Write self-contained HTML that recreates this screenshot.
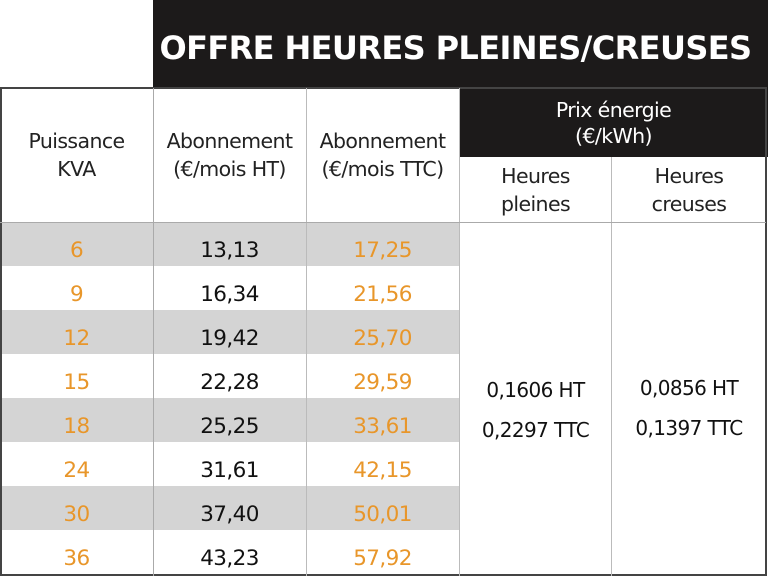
<!DOCTYPE html><html><head><meta charset="utf-8"><style>
body{margin:0;width:768px;height:576px;background:#fff;position:relative;overflow:hidden;font-family:"DejaVu Sans","Liberation Sans",sans-serif;}
div{position:absolute;box-sizing:border-box;}
.c{display:flex;align-items:center;justify-content:center;text-align:center;}
.t{font-size:20.5px;color:#222;line-height:28px;letter-spacing:-0.6px}
.v{font-size:21.5px;letter-spacing:-0.6px}
.o{color:#e8962a}.k{color:#111}
.g{background:#d4d4d4}
</style></head><body>
<div class="c" style="left:153px;top:0;width:615px;height:88px;background:#1c1a1a;color:#fff;font-size:32px;font-weight:bold;letter-spacing:-0.6px;padding-top:8px;padding-right:10px">OFFRE HEURES PLEINES/CREUSES</div>
<div class="c" style="left:459px;top:88px;width:309px;height:69px;background:#1c1a1a;color:#fff;font-size:20.5px;line-height:26px;letter-spacing:-0.6px">Prix énergie<br>(€/kWh)</div>
<div style="left:0;top:222px;width:459px;height:44px" class="g"></div>
<div style="left:0;top:310px;width:459px;height:44px" class="g"></div>
<div style="left:0;top:398px;width:459px;height:44px" class="g"></div>
<div style="left:0;top:486px;width:459px;height:44px" class="g"></div>
<div class="c t" style="left:0;top:88px;width:153px;height:134px">Puissance<br>KVA</div>
<div class="c t" style="left:153px;top:88px;width:153px;height:134px">Abonnement<br>(€/mois HT)</div>
<div class="c t" style="left:306px;top:88px;width:153px;height:134px">Abonnement<br>(€/mois TTC)</div>
<div class="c t" style="left:459px;top:157px;width:153px;height:65px">Heures<br>pleines</div>
<div class="c t" style="left:612px;top:157px;width:154px;height:65px">Heures<br>creuses</div>
<div class="c v k" style="left:459px;top:370px;width:153px;height:80px;line-height:40px;font-size:20px">0,1606 HT<br>0,2297 TTC</div>
<div class="c v k" style="left:612px;top:368px;width:154px;height:80px;line-height:40px;font-size:20px">0,0856 HT<br>0,1397 TTC</div>
<div style="left:0;top:87px;width:767px;height:489px;border:2px solid #444"></div>
<div style="left:153px;top:88px;width:1px;height:488px;background:#aaa"></div>
<div style="left:306px;top:88px;width:1px;height:488px;background:#bbb"></div>
<div style="left:459px;top:88px;width:1px;height:488px;background:#bbb"></div>
<div style="left:611px;top:157px;width:1px;height:419px;background:#bbb"></div>
<div style="left:0;top:222px;width:766px;height:1px;background:#aaa"></div>
<div class="c v o" style="left:0;top:228px;width:153px;height:44px">6</div>
<div class="c v k" style="left:153px;top:228px;width:153px;height:44px">13,13</div>
<div class="c v o" style="left:306px;top:228px;width:153px;height:44px">17,25</div>
<div class="c v o" style="left:0;top:272px;width:153px;height:44px">9</div>
<div class="c v k" style="left:153px;top:272px;width:153px;height:44px">16,34</div>
<div class="c v o" style="left:306px;top:272px;width:153px;height:44px">21,56</div>
<div class="c v o" style="left:0;top:316px;width:153px;height:44px">12</div>
<div class="c v k" style="left:153px;top:316px;width:153px;height:44px">19,42</div>
<div class="c v o" style="left:306px;top:316px;width:153px;height:44px">25,70</div>
<div class="c v o" style="left:0;top:360px;width:153px;height:44px">15</div>
<div class="c v k" style="left:153px;top:360px;width:153px;height:44px">22,28</div>
<div class="c v o" style="left:306px;top:360px;width:153px;height:44px">29,59</div>
<div class="c v o" style="left:0;top:404px;width:153px;height:44px">18</div>
<div class="c v k" style="left:153px;top:404px;width:153px;height:44px">25,25</div>
<div class="c v o" style="left:306px;top:404px;width:153px;height:44px">33,61</div>
<div class="c v o" style="left:0;top:448px;width:153px;height:44px">24</div>
<div class="c v k" style="left:153px;top:448px;width:153px;height:44px">31,61</div>
<div class="c v o" style="left:306px;top:448px;width:153px;height:44px">42,15</div>
<div class="c v o" style="left:0;top:492px;width:153px;height:44px">30</div>
<div class="c v k" style="left:153px;top:492px;width:153px;height:44px">37,40</div>
<div class="c v o" style="left:306px;top:492px;width:153px;height:44px">50,01</div>
<div class="c v o" style="left:0;top:536px;width:153px;height:44px">36</div>
<div class="c v k" style="left:153px;top:536px;width:153px;height:44px">43,23</div>
<div class="c v o" style="left:306px;top:536px;width:153px;height:44px">57,92</div>
</body></html>
